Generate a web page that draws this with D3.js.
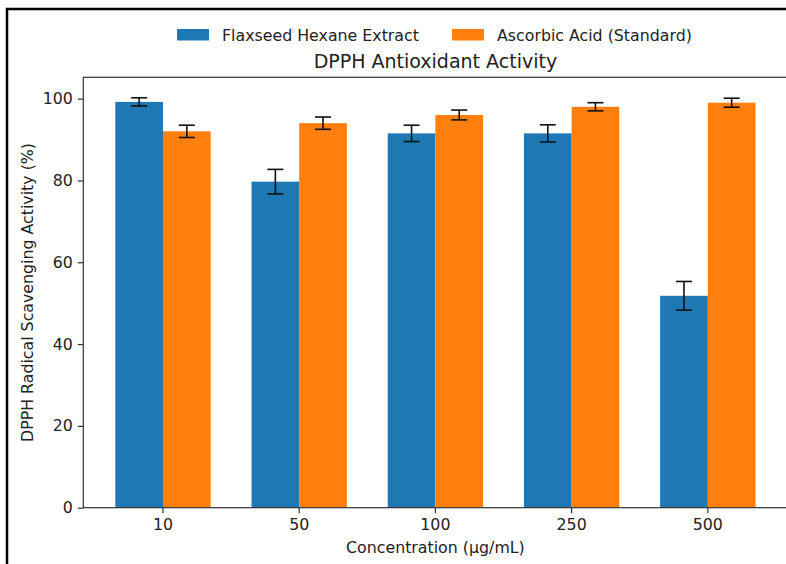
<!DOCTYPE html>
<html>
<head>
<meta charset="utf-8">
<script src="https://cdn.jsdelivr.net/npm/d3@7"></script>
<style>
  html, body { margin: 0; padding: 0; background: #fff; }
  svg { display: block; }
  text { font-family: "DejaVu Sans", sans-serif; fill: #222; }
</style>
</head>
<body>
<svg id="chart" width="786" height="564"></svg>
<script>
const categories = ["10", "50", "100", "250", "500"];
const seriesNames = ["Flaxseed Hexane Extract", "Ascorbic Acid (Standard)"];
const flaxValues = [99.2, 79.7, 91.5, 91.5, 51.8];
const flaxErrors = [1.0, 3.0, 2.0, 2.1, 3.5];
const ascorbicValues = [92.0, 94.0, 96.0, 98.0, 99.0];
const ascorbicErrors = [1.5, 1.5, 1.2, 1.0, 1.1];
const yTicks = [0, 20, 40, 60, 80, 100];
const colors = ["#1f77b4", "#ff7f0e"];

(function () {
const series = [
  { name: seriesNames[0], values: flaxValues, errors: flaxErrors, color: colors[0] },
  { name: seriesNames[1], values: ascorbicValues, errors: ascorbicErrors, color: colors[1] }
];

const svg = d3.select("#chart");
const pL = 83.3, pR = 787.5, pT = 77.3, pB = 507.7;

// outer frame (partially visible)
svg.append("rect")
  .attr("x", 7).attr("y", 9)
  .attr("width", 800).attr("height", 600)
  .attr("fill", "none").attr("stroke", "#000").attr("stroke-width", 2.5);

const yMax = d3.max(series.flatMap(s => s.values.map((v, i) => v + s.errors[i]))) * 1.05;
const y = d3.scaleLinear().domain([0, yMax]).range([pB, pT]);

const x = d3.scaleBand().domain(categories).range([pL, pR])
  .paddingInner(0.3).paddingOuter(0.235).align(0.5);
const xSub = d3.scaleBand().domain(seriesNames).range([0, x.bandwidth()]);

// bars
const g = svg.append("g");
series.forEach(s => {
  g.selectAll(null).data(categories).enter().append("rect")
    .attr("x", c => x(c) + xSub(s.name))
    .attr("y", (c, i) => y(s.values[i]))
    .attr("width", xSub.bandwidth())
    .attr("height", (c, i) => y(0) - y(s.values[i]))
    .attr("fill", s.color);
});

// error bars
const capHalf = 8;
series.forEach(s => {
  categories.forEach((c, i) => {
    const cx = x(c) + xSub(s.name) + xSub.bandwidth() / 2;
    const y1 = y(s.values[i] + s.errors[i]);
    const y2 = y(s.values[i] - s.errors[i]);
    const eg = g.append("g").attr("stroke", "#111").attr("stroke-width", 1.6);
    eg.append("line").attr("x1", cx).attr("x2", cx).attr("y1", y1).attr("y2", y2);
    eg.append("line").attr("x1", cx - capHalf).attr("x2", cx + capHalf).attr("y1", y1).attr("y2", y1);
    eg.append("line").attr("x1", cx - capHalf).attr("x2", cx + capHalf).attr("y1", y2).attr("y2", y2);
  });
});

// spines
svg.append("rect")
  .attr("x", pL).attr("y", pT)
  .attr("width", pR - pL).attr("height", pB - pT)
  .attr("fill", "none").attr("stroke", "#333").attr("stroke-width", 1.2);

// y axis
const yAxis = d3.axisLeft(y).tickValues(yTicks).tickSize(5.5).tickPadding(5).tickFormat(d3.format("d"));
const yg = svg.append("g").attr("transform", `translate(${pL},0)`).call(yAxis);
yg.select(".domain").remove();
yg.selectAll(".tick line").attr("stroke", "#333").attr("stroke-width", 1.2);
yg.selectAll(".tick text").attr("font-size", 15.8).attr("font-family", "DejaVu Sans").attr("fill", "#222");

// x axis
const xAxis = d3.axisBottom(x).tickSize(5.5).tickPadding(6);
const xg = svg.append("g").attr("transform", `translate(0,${pB})`).call(xAxis);
xg.select(".domain").remove();
xg.selectAll(".tick line").attr("stroke", "#333").attr("stroke-width", 1.2);
xg.selectAll(".tick text").attr("font-size", 15.8).attr("font-family", "DejaVu Sans").attr("fill", "#222");

const cxPlot = (pL + pR) / 2;

// axis labels
svg.append("text")
  .attr("x", cxPlot).attr("y", 553)
  .attr("text-anchor", "middle").attr("font-size", 15.8)
  .text("Concentration (μg/mL)");

svg.append("text")
  .attr("transform", `translate(33,${(pT + pB) / 2}) rotate(-90)`)
  .attr("text-anchor", "middle").attr("font-size", 15.8)
  .text("DPPH Radical Scavenging Activity (%)");

// title
svg.append("text")
  .attr("x", cxPlot).attr("y", 67.5)
  .attr("text-anchor", "middle").attr("font-size", 19)
  .text("DPPH Antioxidant Activity");

// legend
const legendItems = [
  { name: seriesNames[0], color: colors[0], x: 177 },
  { name: seriesNames[1], color: colors[1], x: 452 }
];
legendItems.forEach(it => {
  svg.append("rect").attr("x", it.x).attr("y", 29).attr("width", 32).attr("height", 11.5).attr("fill", it.color);
  svg.append("text").attr("x", it.x + 45).attr("y", 40.5).attr("font-size", 15.8).text(it.name);
});
})();
</script>
</body>
</html>
